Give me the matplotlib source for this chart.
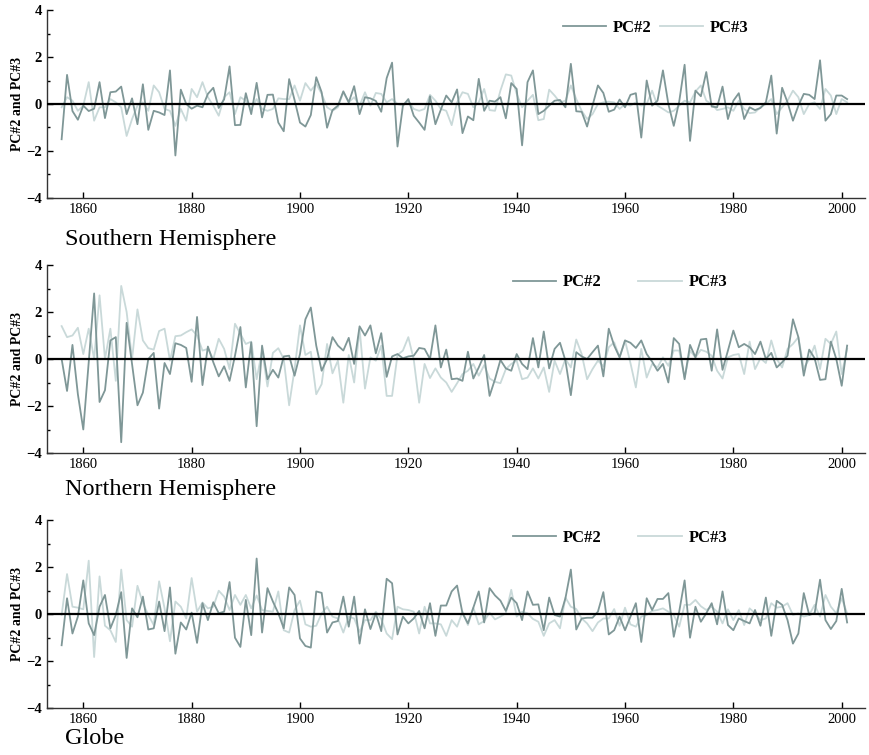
import numpy as np
import matplotlib
matplotlib.use("Agg")
import matplotlib.pyplot as plt

plt.rcParams['font.family'] = ['Liberation Serif', 'DejaVu Serif']

years = np.arange(1856, 2002)

# Southern Hemisphere
sh_pc2 = [-1.5, 1.24, -0.3, -0.67, -0.07, -0.3, -0.2, 0.93, -0.6, 0.5,
          0.53, 0.74, -0.43, 0.24, -0.86, 0.84, -1.1, -0.29, -0.36, -0.47,
          1.43, -2.19, 0.61, 0.0, -0.2, -0.07, -0.14, 0.43, 0.69, -0.17,
          0.2, 1.6, -0.9, -0.89, 0.46, -0.43, 0.9, -0.57, 0.39, 0.4,
          -0.79, -1.16, 1.06, 0.17, -0.79, -0.96, -0.47, 1.14, 0.5, -1.01,
          -0.26, -0.07, 0.54, 0.07, 0.76, -0.43, 0.29, 0.24, 0.13, -0.33,
          1.1, 1.76, -1.81, -0.07, 0.21, -0.5, -0.79, -1.1, 0.33, -0.86,
          -0.24, 0.36, 0.07, 0.62, -1.24, -0.53, -0.69, 1.07, -0.29, 0.14,
          0.1, 0.29, -0.61, 0.89, 0.64, -1.76, 0.93, 1.43, -0.43, -0.29,
          -0.07, 0.14, 0.17, -0.14, 1.71, -0.31, -0.33, -0.96, -0.07, 0.79,
          0.47, -0.33, -0.24, 0.19, -0.14, 0.39, 0.46, -1.43, 1.0, -0.07,
          0.14, 1.43, 0.0, -0.93, 0.1, 1.67, -1.57, 0.57, 0.33, 1.36,
          -0.11, -0.14, 0.74, -0.64, 0.14, 0.46, -0.64, -0.14, -0.26, -0.17,
          0.07, 1.21, -1.26, 0.69, 0.07, -0.71, -0.07, 0.43, 0.39, 0.21,
          1.86, -0.71, -0.43, 0.36, 0.36, 0.21]
sh_pc3 = [-0.14, 0.29, 0.14, -0.29, -0.07, 0.93, -0.71, -0.14, -0.14, 0.21,
          0.07, -0.14, -1.36, -0.64, -0.07, 0.07, -0.29, 0.79, 0.5, -0.21,
          -0.29, -0.93, -0.21, -0.71, 0.64, 0.29, 0.93, 0.29, -0.07, -0.5,
          0.29, 0.5, -0.43, 0.29, 0.14, -0.21, 0.21, -0.21, -0.29, -0.21,
          0.24, 0.21, 0.21, 0.79, 0.14, 0.89, 0.57, 0.86, 0.43, -0.14,
          -0.29, -0.14, 0.5, 0.07, 0.29, -0.07, 0.5, -0.07, 0.47, 0.43,
          0.07, 0.21, 0.0, -0.07, 0.14, -0.21, -0.29, -0.21, 0.39, 0.14,
          -0.21, -0.29, -0.9, 0.07, 0.5, 0.43, -0.14, 0.07, 0.64, -0.26,
          -0.29, 0.57, 1.26, 1.21, 0.43, -0.14, 0.14, 0.39, -0.69, -0.64,
          0.61, 0.36, 0.07, 0.14, 0.79, 0.21, -0.29, -0.64, -0.43, 0.0,
          0.07, 0.1, 0.07, -0.21, 0.0, -0.07, 0.07, -0.07, 0.0, 0.57,
          -0.07, -0.21, -0.36, -0.29, -0.07, 0.14, 0.07, 0.53, 0.79, 0.14,
          0.0, -0.26, -0.21, -0.14, -0.29, 0.14, -0.21, -0.39, -0.36, -0.14,
          0.0, 0.21, -0.43, -0.14, 0.14, 0.57, 0.29, -0.43, 0.0, 0.07,
          -0.21, 0.64, 0.36, -0.43, 0.21, 0.07]

# Northern Hemisphere
nh_pc2 = [0.0, -1.36, 0.6, -1.5, -3.0, -0.14, 2.79, -1.83, -1.33, 0.79,
          0.93, -3.54, 1.54, -0.21, -1.97, -1.43, 0.0, 0.26, -2.11, -0.17,
          -0.64, 0.67, 0.6, 0.47, -0.97, 1.79, -1.11, 0.53, -0.14, -0.74,
          -0.31, -0.93, 0.14, 1.36, -1.21, 0.71, -2.86, 0.57, -0.86, -0.46,
          -0.79, 0.11, 0.14, -0.71, 0.21, 1.69, 2.19, 0.57, -0.5, 0.0,
          0.93, 0.57, 0.36, 0.9, -0.21, 1.39, 1.0, 1.43, 0.24, 1.1,
          -0.76, 0.11, 0.21, 0.03, 0.11, 0.14, 0.47, 0.43, 0.0, 1.43,
          -0.36, 0.4, -0.86, -0.83, -0.93, 0.31, -0.83, -0.36, 0.17, -1.57,
          -0.86, -0.04, -0.4, -0.5, 0.21, -0.21, -0.43, 0.89, -0.36, 1.17,
          -0.4, 0.43, 0.69, -0.07, -1.54, 0.29, 0.11, 0.0, 0.29, 0.57,
          -0.74, 1.29, 0.57, 0.07, 0.79, 0.69, 0.47, 0.79, 0.21, -0.11,
          -0.5, -0.21, -1.0, 0.89, 0.64, -0.86, 0.6, 0.07, 0.83, 0.86,
          -0.5, 1.26, -0.46, 0.36, 1.21, 0.5, 0.64, 0.5, 0.21, 0.74,
          0.0, 0.26, -0.36, -0.14, 0.14, 1.69, 0.93, -0.71, 0.4, 0.03,
          -0.89, -0.86, 0.74, 0.0, -1.14, 0.57]
nh_pc3 = [1.4, 0.93, 1.0, 1.33, 0.21, 1.29, 0.0, 2.71, 0.0, 1.29,
          -0.93, 3.11, 2.0, 0.0, 2.11, 0.79, 0.46, 0.4, 1.19, 1.29,
          -0.07, 0.97, 1.0, 1.14, 1.26, 1.0, 0.36, 0.43, 0.0, 0.86,
          0.43, -0.43, 1.5, 1.07, 0.64, 0.74, -0.86, 0.36, -1.17, 0.26,
          0.46, 0.0, -1.97, -0.43, 1.43, 0.17, 0.31, -1.5, -1.07, 0.64,
          -0.61, -0.07, -1.86, 0.17, -1.0, 1.29, -1.26, 0.07, -0.07, 0.57,
          -1.57, -1.57, 0.17, 0.36, 0.93, -0.03, -1.86, -0.21, -0.81, -0.4,
          -0.79, -1.0, -1.4, -1.03, -0.64, -0.5, -0.21, -0.71, -0.26, -0.83,
          -0.97, -1.03, -0.43, -0.21, -0.07, -0.86, -0.79, -0.4, -0.83, -0.36,
          -1.4, -0.07, -0.64, 0.0, -0.36, 0.83, 0.21, -0.86, -0.43, -0.07,
          -0.31, 0.5, 0.71, 0.07, 0.79, -0.17, -1.21, 0.43, -0.79, -0.21,
          -0.36, 0.07, -0.29, 0.36, 0.36, -0.79, 0.36, 0.07, 0.39, 0.31,
          0.14, -0.5, -0.83, 0.07, 0.17, 0.21, -0.64, 0.74, -0.43, 0.03,
          -0.17, 0.79, 0.0, -0.36, 0.43, 0.64, 0.93, -0.4, 0.0, 0.57,
          -0.43, 0.86, 0.64, 1.17, -0.64, 0.43]

# Globe
gl_pc2 = [-1.33, 0.67, -0.83, -0.11, 1.43, -0.4, -0.9, 0.31, 0.81, -0.61,
          -0.04, 0.93, -1.87, 0.24, -0.14, 0.74, -0.66, -0.61, 0.53, -0.73,
          1.13, -1.69, -0.36, -0.66, 0.06, -1.23, 0.46, -0.26, 0.5, 0.03,
          0.1, 1.36, -1.01, -1.4, 0.6, -0.9, 2.36, -0.79, 1.1, 0.53,
          0.03, -0.61, 1.13, 0.81, -1.04, -1.36, -1.43, 0.96, 0.9, -0.79,
          -0.36, -0.3, 0.74, -0.54, 0.74, -1.26, 0.2, -0.64, 0.03, -0.73,
          1.5, 1.31, -0.87, -0.11, -0.4, -0.19, 0.13, -0.61, 0.46, -0.93,
          0.36, 0.36, 0.96, 1.21, 0.03, -0.4, 0.27, 0.96, -0.36, 1.1,
          0.79, 0.57, 0.13, 0.7, 0.46, -0.26, 0.96, 0.39, 0.41, -0.69,
          0.7, -0.04, -0.11, 0.67, 1.89, -0.66, -0.19, -0.16, -0.16, 0.1,
          0.93, -0.87, -0.69, -0.11, -0.69, -0.11, 0.46, -1.19, 0.67, 0.17,
          0.64, 0.64, 0.89, -0.97, 0.1, 1.43, -1.01, 0.31, -0.33, 0.03,
          0.46, -0.44, 0.96, -0.47, -0.69, -0.19, -0.3, -0.4, 0.17, -0.5,
          0.7, -0.93, 0.56, 0.39, -0.26, -1.26, -0.83, 0.89, -0.04, 0.03,
          1.46, -0.26, -0.64, -0.3, 1.07, -0.36]
gl_pc3 = [-0.04, 1.7, 0.31, 0.27, 0.2, 2.27, -1.83, 1.6, -0.5, -0.69,
          -1.19, 1.89, -0.26, -0.54, 1.2, 0.46, -0.04, -0.47, 1.39, 0.24,
          -1.16, 0.53, 0.31, -0.19, 1.53, 0.1, 0.49, 0.24, 0.31, 0.99,
          0.74, 0.17, 0.81, 0.39, 0.81, 0.24, 0.79, 0.17, 0.13, 0.1,
          0.96, -0.69, -0.79, 0.17, 0.57, -0.44, -0.54, -0.5, 0.03, 0.31,
          -0.11, -0.19, -0.79, -0.11, -0.19, -0.76, -0.26, -0.26, 0.1, -0.21,
          -0.83, -1.07, 0.31, 0.2, 0.17, 0.1, -0.83, 0.31, -0.4, -0.4,
          -0.44, -0.93, -0.26, -0.54, 0.1, -0.47, 0.27, -0.44, -0.3, 0.06,
          -0.23, -0.11, 0.03, 1.03, -0.11, 0.1, 0.03, -0.21, -0.33, -0.93,
          -0.4, -0.26, -0.61, 0.7, 0.31, 0.21, -0.19, -0.4, -0.73, -0.36,
          -0.19, -0.19, 0.21, -0.5, 0.27, -0.44, -0.54, -0.11, -0.04, 0.13,
          0.17, 0.24, 0.1, -0.04, -0.54, 0.39, 0.39, 0.6, 0.33, 0.17,
          0.31, 0.1, -0.4, 0.2, -0.26, 0.17, -0.47, 0.24, 0.03, -0.26,
          -0.19, 0.46, 0.27, 0.31, 0.46, -0.04, 0.03, -0.11, -0.04, 0.39,
          -0.11, 0.81, 0.31, 0.03, 0.67, 0.03]

panels = [("Southern Hemisphere", sh_pc2, sh_pc3),
          ("Northern Hemisphere", nh_pc2, nh_pc3),
          ("Globe", gl_pc2, gl_pc3)]

dark = '#7f9797'
light = '#c9d9d9'

fig = plt.figure(figsize=(8.69, 7.55), dpi=100)
W, H = 869.0, 755.0
tops = [10, 265, 520]             # pixel rows of y=4
legend_x = [563, 513, 513]        # pixel column where the legend starts
legend_gap = [0.5, 2.2, 2.2]      # column spacing of the legend
title_off = [230, 224, 219]       # title centre below the axes top

for i, (name, pc2, pc3) in enumerate(panels):
    top = tops[i]
    ax = fig.add_axes([47 / W, 1 - (top + 188) / H, 818 / W, 188 / H])
    ax.plot(years, pc2, color=dark, lw=1.3, label='PC#2', zorder=3)
    ax.plot(years, pc3, color=light, lw=1.3, label='PC#3', zorder=2)
    ax.axhline(0, color='black', lw=1.6, zorder=4)

    ax.set_xlim(1853.3, 2004.3)
    ax.set_ylim(-4, 4)
    ax.set_xticks(np.arange(1860, 2001, 20))
    ax.set_yticks([-4, -2, 0, 2, 4])
    ax.set_yticks([-3, -1, 1, 3], minor=True)
    ax.tick_params(direction='in', length=4, width=1, labelsize=10.5)
    ax.tick_params(which='minor', direction='in', length=2.5, width=1)
    for lab in ax.get_yticklabels():
        lab.set_fontweight('bold')
    for s in ['top', 'right']:
        ax.spines[s].set_visible(False)
    for s in ['left', 'bottom']:
        ax.spines[s].set_linewidth(1.0)
        ax.spines[s].set_color('#333333')
    ax.set_ylabel('PC#2 and PC#3', fontsize=10, fontweight='bold', labelpad=2)

    ax.legend(loc='center left',
              bbox_to_anchor=((legend_x[i] - 47) / 818, 1 - 17.5 / 188),
              ncol=2, frameon=False, prop={'weight': 'bold', 'size': 12},
              handlelength=2.6, columnspacing=legend_gap[i],
              handletextpad=0.4, borderaxespad=0, borderpad=0)

    fig.text(65 / W, 1 - (top + title_off[i]) / H, name, fontsize=17.5,
             ha='left', va='center')

fig.savefig('out.png', dpi=100)
